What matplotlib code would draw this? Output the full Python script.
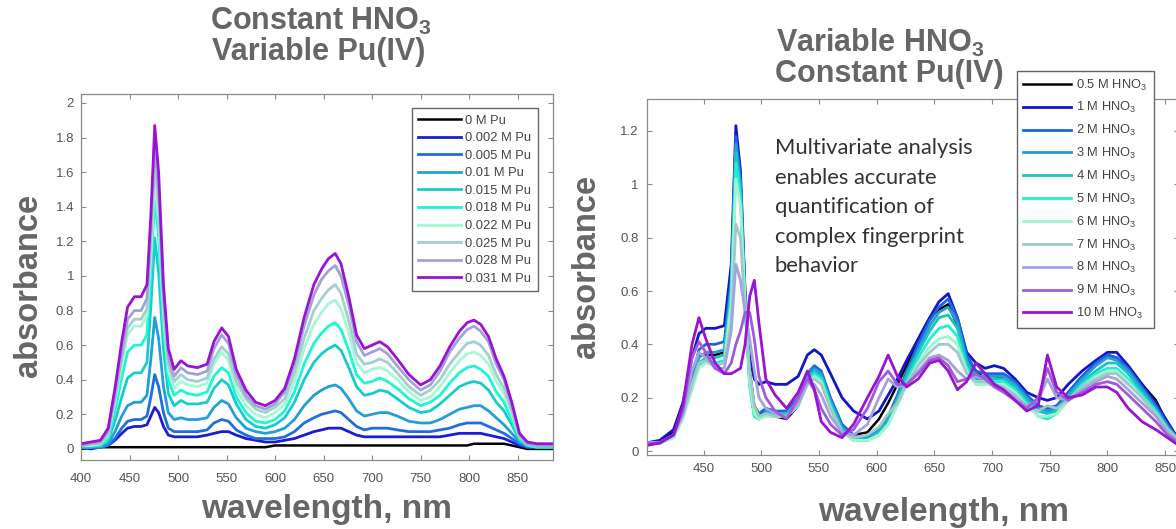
import numpy as np
import matplotlib.pyplot as plt
from matplotlib.ticker import FuncFormatter

plt.rcParams['font.family'] = ['Liberation Sans', 'DejaVu Sans']
plt.rcParams['mathtext.fontset'] = 'custom'
plt.rcParams['mathtext.rm'] = 'Liberation Sans'
plt.rcParams['mathtext.bf'] = 'Liberation Sans:bold'
plt.rcParams['mathtext.default'] = 'regular'

# ---- left panel: constant HNO3, variable Pu(IV) ----
wl_L = [400, 410, 420, 428, 435, 442, 448, 455, 462, 468,
        472, 476, 480, 485, 490, 496, 503, 510, 520, 530,
        537, 545, 552, 560, 570, 580, 590, 600, 610, 620,
        630, 640, 648, 655, 662, 668, 676, 684, 692, 700,
        708, 716, 726, 738, 750, 760, 770, 780, 790, 798,
        805, 812, 820, 828, 836, 844, 852, 860, 870, 886]

pu_0 = [0.00, 0.01, 0.01, 0.01, 0.01, 0.01, 0.01, 0.01, 0.01, 0.01,
        0.01, 0.01, 0.01, 0.01, 0.01, 0.01, 0.01, 0.01, 0.01, 0.01,
        0.01, 0.01, 0.01, 0.01, 0.01, 0.01, 0.01, 0.02, 0.02, 0.02,
        0.02, 0.02, 0.02, 0.02, 0.02, 0.02, 0.02, 0.02, 0.02, 0.02,
        0.02, 0.02, 0.02, 0.02, 0.02, 0.02, 0.02, 0.02, 0.02, 0.02,
        0.03, 0.03, 0.03, 0.03, 0.03, 0.02, 0.01, 0.00, 0.00, 0.00]
pu_002 = [0.01, 0.00, 0.01, 0.02, 0.05, 0.09, 0.12, 0.13, 0.13, 0.14,
          0.19, 0.24, 0.21, 0.13, 0.08, 0.07, 0.07, 0.07, 0.07, 0.08,
          0.09, 0.10, 0.10, 0.08, 0.06, 0.05, 0.04, 0.04, 0.05, 0.06,
          0.08, 0.10, 0.11, 0.12, 0.12, 0.12, 0.10, 0.08, 0.07, 0.07,
          0.07, 0.07, 0.07, 0.07, 0.07, 0.07, 0.07, 0.08, 0.09, 0.09,
          0.09, 0.09, 0.08, 0.07, 0.06, 0.04, 0.02, 0.01, 0.01, 0.01]
pu_005 = [0.01, 0.01, 0.01, 0.02, 0.06, 0.12, 0.16, 0.17, 0.17, 0.19,
          0.30, 0.43, 0.36, 0.21, 0.12, 0.10, 0.10, 0.10, 0.10, 0.11,
          0.15, 0.17, 0.16, 0.11, 0.08, 0.06, 0.06, 0.06, 0.07, 0.10,
          0.15, 0.18, 0.20, 0.21, 0.22, 0.21, 0.17, 0.13, 0.11, 0.12,
          0.12, 0.12, 0.11, 0.10, 0.10, 0.10, 0.11, 0.12, 0.14, 0.15,
          0.15, 0.15, 0.13, 0.11, 0.09, 0.06, 0.03, 0.01, 0.01, 0.01]
pu_01 = [0.01, 0.01, 0.01, 0.03, 0.10, 0.19, 0.25, 0.27, 0.27, 0.31,
         0.52, 0.76, 0.64, 0.36, 0.21, 0.17, 0.18, 0.17, 0.17, 0.18,
         0.24, 0.28, 0.26, 0.18, 0.12, 0.10, 0.09, 0.10, 0.12, 0.17,
         0.25, 0.31, 0.34, 0.36, 0.37, 0.35, 0.29, 0.22, 0.19, 0.20,
         0.21, 0.21, 0.19, 0.16, 0.15, 0.15, 0.17, 0.20, 0.23, 0.24,
         0.25, 0.25, 0.22, 0.18, 0.14, 0.09, 0.04, 0.02, 0.01, 0.01]
pu_015 = [0.01, 0.01, 0.02, 0.05, 0.16, 0.30, 0.41, 0.44, 0.44, 0.50,
          0.82, 1.22, 1.02, 0.58, 0.32, 0.25, 0.28, 0.26, 0.26, 0.27,
          0.35, 0.40, 0.37, 0.26, 0.17, 0.13, 0.12, 0.14, 0.18, 0.27,
          0.40, 0.50, 0.55, 0.58, 0.60, 0.57, 0.47, 0.36, 0.31, 0.32,
          0.34, 0.33, 0.29, 0.24, 0.21, 0.22, 0.26, 0.31, 0.36, 0.38,
          0.39, 0.38, 0.34, 0.27, 0.22, 0.14, 0.05, 0.02, 0.01, 0.01]
pu_018 = [0.02, 0.02, 0.02, 0.06, 0.22, 0.41, 0.56, 0.60, 0.60, 0.66,
          1.02, 1.45, 1.22, 0.70, 0.40, 0.31, 0.34, 0.32, 0.31, 0.33,
          0.42, 0.47, 0.44, 0.30, 0.21, 0.16, 0.15, 0.17, 0.22, 0.33,
          0.49, 0.61, 0.67, 0.71, 0.73, 0.69, 0.57, 0.43, 0.38, 0.39,
          0.41, 0.39, 0.35, 0.29, 0.25, 0.27, 0.31, 0.38, 0.44, 0.47,
          0.48, 0.46, 0.42, 0.33, 0.27, 0.17, 0.06, 0.02, 0.01, 0.01]
pu_022 = [0.02, 0.02, 0.03, 0.08, 0.27, 0.49, 0.66, 0.71, 0.71, 0.77,
          1.12, 1.55, 1.33, 0.78, 0.45, 0.35, 0.39, 0.37, 0.36, 0.38,
          0.49, 0.56, 0.51, 0.35, 0.25, 0.20, 0.18, 0.21, 0.26, 0.39,
          0.58, 0.72, 0.79, 0.84, 0.86, 0.81, 0.67, 0.50, 0.44, 0.46,
          0.47, 0.45, 0.40, 0.33, 0.28, 0.30, 0.36, 0.44, 0.51, 0.55,
          0.56, 0.54, 0.49, 0.39, 0.32, 0.20, 0.07, 0.03, 0.02, 0.02]
pu_025 = [0.02, 0.03, 0.03, 0.09, 0.29, 0.52, 0.70, 0.75, 0.75, 0.81,
          1.19, 1.65, 1.41, 0.83, 0.49, 0.39, 0.43, 0.40, 0.39, 0.41,
          0.52, 0.59, 0.55, 0.39, 0.29, 0.23, 0.21, 0.24, 0.29, 0.44,
          0.64, 0.80, 0.87, 0.92, 0.95, 0.90, 0.74, 0.55, 0.49, 0.50,
          0.52, 0.50, 0.44, 0.36, 0.31, 0.34, 0.40, 0.49, 0.56, 0.61,
          0.62, 0.60, 0.54, 0.43, 0.35, 0.22, 0.07, 0.03, 0.02, 0.02]
pu_028 = [0.02, 0.03, 0.04, 0.10, 0.31, 0.56, 0.75, 0.80, 0.80, 0.87,
          1.27, 1.76, 1.50, 0.88, 0.53, 0.42, 0.47, 0.44, 0.43, 0.45,
          0.58, 0.66, 0.61, 0.43, 0.31, 0.25, 0.23, 0.26, 0.33, 0.49,
          0.71, 0.89, 0.98, 1.03, 1.06, 1.00, 0.83, 0.62, 0.54, 0.56,
          0.58, 0.55, 0.48, 0.40, 0.34, 0.37, 0.45, 0.56, 0.64, 0.69,
          0.71, 0.68, 0.62, 0.49, 0.40, 0.25, 0.08, 0.03, 0.02, 0.02]
pu_031 = [0.03, 0.04, 0.05, 0.12, 0.35, 0.62, 0.82, 0.88, 0.88, 0.95,
          1.35, 1.87, 1.60, 0.95, 0.58, 0.46, 0.51, 0.48, 0.47, 0.49,
          0.62, 0.70, 0.65, 0.46, 0.34, 0.27, 0.25, 0.28, 0.35, 0.52,
          0.76, 0.95, 1.04, 1.10, 1.13, 1.07, 0.88, 0.66, 0.58, 0.60,
          0.62, 0.59, 0.52, 0.43, 0.37, 0.40, 0.48, 0.59, 0.68, 0.73,
          0.745, 0.72, 0.65, 0.52, 0.42, 0.27, 0.09, 0.04, 0.03, 0.03]

labels_L = ['0 M Pu', '0.002 M Pu', '0.005 M Pu', '0.01 M Pu', '0.015 M Pu',
            '0.018 M Pu', '0.022 M Pu', '0.025 M Pu', '0.028 M Pu', '0.031 M Pu']
series_L = [pu_0, pu_002, pu_005, pu_01, pu_015, pu_018, pu_022, pu_025, pu_028, pu_031]
colors_L = ['#000000', '#1c1cd4', '#1f6ee0', '#229fd8', '#16cccc',
            '#1ef5d2', '#a6f7d2', '#a2cfcf', '#a2a2d8', '#9a12d2']

# ---- right panel: variable HNO3, constant Pu(IV) ----
wl_R = [400, 412, 424, 432, 440, 446, 452, 460, 468, 474,
        478, 482, 486, 490, 494, 498, 504, 512, 522, 532,
        540, 546, 552, 560, 570, 580, 592, 602, 610, 618,
        626, 636, 646, 654, 662, 670, 678, 686, 694, 702,
        710, 720, 730, 740, 748, 756, 766, 778, 790, 800,
        808, 818, 830, 842, 852, 862]

hno3_05 = [0.03, 0.03, 0.07, 0.15, 0.28, 0.36, 0.36, 0.36, 0.37, 0.55,
           1.08, 0.95, 0.55, 0.30, 0.17, 0.14, 0.15, 0.13, 0.12, 0.17,
           0.27, 0.31, 0.27, 0.17, 0.08, 0.06, 0.07, 0.12, 0.18, 0.25,
           0.32, 0.42, 0.50, 0.53, 0.55, 0.47, 0.34, 0.30, 0.27, 0.27,
           0.28, 0.25, 0.20, 0.16, 0.15, 0.16, 0.22, 0.28, 0.33, 0.36,
           0.35, 0.31, 0.25, 0.19, 0.10, 0.04]
hno3_1 = [0.03, 0.04, 0.08, 0.18, 0.35, 0.44, 0.46, 0.46, 0.47, 0.70,
          1.22, 1.05, 0.60, 0.35, 0.27, 0.25, 0.26, 0.25, 0.25, 0.28,
          0.36, 0.38, 0.36, 0.29, 0.20, 0.15, 0.12, 0.15, 0.21, 0.27,
          0.34, 0.42, 0.50, 0.56, 0.59, 0.50, 0.37, 0.33, 0.31, 0.32,
          0.31, 0.27, 0.22, 0.20, 0.19, 0.20, 0.25, 0.30, 0.34, 0.37,
          0.37, 0.32, 0.25, 0.18, 0.11, 0.04]
hno3_2 = [0.03, 0.03, 0.06, 0.14, 0.27, 0.38, 0.40, 0.40, 0.41, 0.65,
          1.18, 1.02, 0.58, 0.28, 0.16, 0.14, 0.16, 0.15, 0.15, 0.20,
          0.29, 0.32, 0.30, 0.20, 0.10, 0.06, 0.05, 0.08, 0.13, 0.21,
          0.30, 0.40, 0.49, 0.54, 0.57, 0.50, 0.36, 0.30, 0.29, 0.29,
          0.29, 0.26, 0.21, 0.17, 0.16, 0.17, 0.22, 0.28, 0.33, 0.36,
          0.35, 0.31, 0.24, 0.17, 0.10, 0.04]
hno3_3 = [0.03, 0.03, 0.06, 0.14, 0.26, 0.35, 0.37, 0.37, 0.38, 0.62,
          1.15, 1.00, 0.56, 0.26, 0.14, 0.12, 0.15, 0.14, 0.14, 0.19,
          0.28, 0.31, 0.29, 0.19, 0.09, 0.05, 0.05, 0.08, 0.12, 0.20,
          0.29, 0.38, 0.47, 0.52, 0.54, 0.48, 0.34, 0.28, 0.28, 0.28,
          0.28, 0.25, 0.20, 0.16, 0.15, 0.16, 0.21, 0.27, 0.32, 0.35,
          0.34, 0.30, 0.23, 0.16, 0.09, 0.04]
hno3_4 = [0.03, 0.03, 0.06, 0.13, 0.25, 0.33, 0.35, 0.35, 0.36, 0.60,
          1.12, 0.98, 0.55, 0.25, 0.13, 0.12, 0.14, 0.14, 0.14, 0.18,
          0.27, 0.30, 0.28, 0.18, 0.08, 0.05, 0.04, 0.07, 0.11, 0.19,
          0.28, 0.37, 0.45, 0.50, 0.51, 0.46, 0.33, 0.27, 0.27, 0.27,
          0.27, 0.24, 0.19, 0.15, 0.14, 0.15, 0.20, 0.26, 0.30, 0.33,
          0.33, 0.29, 0.22, 0.15, 0.09, 0.04]
hno3_5 = [0.03, 0.03, 0.05, 0.13, 0.24, 0.32, 0.34, 0.33, 0.34, 0.58,
          1.08, 0.95, 0.54, 0.24, 0.13, 0.12, 0.14, 0.13, 0.13, 0.17,
          0.26, 0.29, 0.27, 0.17, 0.07, 0.04, 0.04, 0.06, 0.10, 0.18,
          0.26, 0.35, 0.42, 0.46, 0.47, 0.43, 0.31, 0.25, 0.25, 0.26,
          0.26, 0.23, 0.18, 0.13, 0.12, 0.14, 0.19, 0.25, 0.29, 0.31,
          0.31, 0.27, 0.21, 0.15, 0.08, 0.04]
hno3_6 = [0.03, 0.03, 0.05, 0.12, 0.23, 0.31, 0.33, 0.32, 0.33, 0.55,
          1.02, 0.92, 0.55, 0.26, 0.14, 0.12, 0.13, 0.13, 0.13, 0.17,
          0.25, 0.28, 0.26, 0.16, 0.07, 0.04, 0.04, 0.06, 0.10, 0.17,
          0.25, 0.33, 0.39, 0.42, 0.43, 0.40, 0.30, 0.25, 0.25, 0.25,
          0.25, 0.22, 0.17, 0.13, 0.13, 0.14, 0.19, 0.24, 0.28, 0.30,
          0.30, 0.26, 0.20, 0.14, 0.08, 0.04]
hno3_7 = [0.03, 0.03, 0.06, 0.13, 0.25, 0.33, 0.34, 0.32, 0.33, 0.48,
          0.85, 0.80, 0.52, 0.30, 0.17, 0.13, 0.14, 0.13, 0.13, 0.17,
          0.25, 0.27, 0.25, 0.16, 0.07, 0.05, 0.06, 0.09, 0.14, 0.18,
          0.25, 0.32, 0.37, 0.40, 0.40, 0.37, 0.29, 0.26, 0.26, 0.25,
          0.24, 0.21, 0.17, 0.15, 0.17, 0.16, 0.19, 0.24, 0.27, 0.29,
          0.29, 0.25, 0.20, 0.14, 0.08, 0.04]
hno3_8 = [0.03, 0.03, 0.06, 0.14, 0.30, 0.37, 0.35, 0.31, 0.31, 0.45,
          0.70, 0.64, 0.52, 0.42, 0.30, 0.20, 0.16, 0.14, 0.13, 0.18,
          0.26, 0.25, 0.21, 0.13, 0.07, 0.06, 0.10, 0.20, 0.27, 0.24,
          0.25, 0.30, 0.35, 0.36, 0.34, 0.30, 0.27, 0.28, 0.27, 0.25,
          0.23, 0.20, 0.17, 0.19, 0.27, 0.20, 0.19, 0.23, 0.26, 0.28,
          0.27, 0.23, 0.18, 0.13, 0.07, 0.03]
hno3_9 = [0.03, 0.03, 0.06, 0.15, 0.35, 0.41, 0.37, 0.31, 0.29, 0.33,
          0.40, 0.45, 0.52, 0.52, 0.42, 0.28, 0.20, 0.15, 0.12, 0.20,
          0.27, 0.23, 0.16, 0.10, 0.06, 0.08, 0.16, 0.26, 0.30, 0.25,
          0.25, 0.29, 0.34, 0.35, 0.32, 0.26, 0.27, 0.29, 0.27, 0.24,
          0.22, 0.19, 0.16, 0.20, 0.31, 0.22, 0.19, 0.22, 0.25, 0.26,
          0.25, 0.21, 0.16, 0.11, 0.06, 0.03]
hno3_10 = [0.02, 0.03, 0.06, 0.17, 0.40, 0.50, 0.42, 0.33, 0.29, 0.29,
           0.30, 0.31, 0.40, 0.58, 0.64, 0.48, 0.27, 0.21, 0.16, 0.22,
           0.30, 0.23, 0.11, 0.07, 0.05, 0.10, 0.20, 0.28, 0.36, 0.28,
           0.24, 0.27, 0.33, 0.34, 0.30, 0.23, 0.26, 0.33, 0.29, 0.25,
           0.23, 0.19, 0.15, 0.17, 0.36, 0.24, 0.20, 0.21, 0.24, 0.24,
           0.22, 0.16, 0.11, 0.08, 0.05, 0.02]

labels_R = ['0.5 M HNO$_3$', '1 M HNO$_3$', '2 M HNO$_3$', '3 M HNO$_3$', '4 M HNO$_3$',
            '5 M HNO$_3$', '6 M HNO$_3$', '7 M HNO$_3$', '8 M HNO$_3$', '9 M HNO$_3$',
            '10 M HNO$_3$']
series_R = [hno3_05, hno3_1, hno3_2, hno3_3, hno3_4, hno3_5,
            hno3_6, hno3_7, hno3_8, hno3_9, hno3_10]
colors_R = ['#000000', '#1414c8', '#1a66dd', '#2a9ad6', '#18c4c4', '#20f0d0',
            '#a0f5d0', '#a0c8c8', '#a4a4dc', '#a05ada', '#9a12d2']

W, H = 1176, 529
fig = plt.figure(figsize=(W / 100, H / 100), dpi=100)


def px_rect(x0, y0, x1, y1):
    return [x0 / W, 1 - y1 / H, (x1 - x0) / W, (y1 - y0) / H]


def matlab_style(ax, pad_x, pad_y):
    for s in ax.spines.values():
        s.set_color('#8a8a8a')
        s.set_linewidth(0.9)
    ax.tick_params(axis='both', direction='in', length=3.5, width=0.8, color='#8a8a8a',
                   labelsize=9.5, labelcolor='#555555', top=True, right=True)
    ax.tick_params(axis='x', pad=pad_x)
    ax.tick_params(axis='y', pad=pad_y)
    ax.yaxis.set_major_formatter(FuncFormatter(lambda v, p: f'{v:g}'))


axL = fig.add_axes(px_rect(81, 94, 553, 460))
for y, c, lab in zip(series_L, colors_L, labels_L):
    axL.plot(wl_L, y, color=c, lw=2.0 if c != '#000000' else 1.8, label=lab)
axL.set_xlim(400, 886.5)
axL.set_ylim(-0.064, 2.052)
axL.set_xticks(range(400, 851, 50))
axL.set_yticks(np.arange(0, 2.01, 0.2))
matlab_style(axL, 9, 5)
axL.legend(loc='upper left', bbox_to_anchor=(412 / W, 1 - 108 / H), bbox_transform=fig.transFigure,
           borderaxespad=0, fontsize=9.3, handlelength=3.3, handletextpad=0.3, labelspacing=0.43,
           borderpad=0.5, fancybox=False, framealpha=1, edgecolor='#666666', labelcolor='#444444')

axR = fig.add_axes(px_rect(647, 99, 1179, 455))
for y, c, lab in zip(series_R, colors_R, labels_R):
    axR.plot(wl_R, y, color=c, lw=2.0 if c != '#000000' else 1.8, label=lab)
axR.set_xlim(401, 862)
axR.set_ylim(-0.015, 1.32)
axR.set_xticks(range(450, 851, 50))
axR.set_yticks(np.arange(0, 1.21, 0.2))
matlab_style(axR, 6, 6)
axR.legend(loc='upper left', bbox_to_anchor=(1017 / W, 1 - 71 / H), bbox_transform=fig.transFigure,
           borderaxespad=0, fontsize=9.3, handlelength=3.7, handletextpad=0.4, labelspacing=0.6,
           borderpad=0.5, fancybox=False, framealpha=1, edgecolor='#666666', labelcolor='#444444')

gray = '#666666'
# titles
fig.text(210 / W, 1 - 30 / H, 'Constant HNO$_3$', fontsize=22, fontweight='bold', color=gray, va='baseline')
fig.text(212 / W, 1 - 60 / H, 'Variable Pu(IV)', fontsize=22, fontweight='bold', color=gray, va='baseline')
fig.text(776 / W, 1 - 52 / H, 'Variable HNO$_3$', fontsize=22, fontweight='bold', color=gray, va='baseline')
fig.text(775 / W, 1 - 82 / H, 'Constant Pu(IV)', fontsize=22, fontweight='bold', color=gray, va='baseline')

# axis labels
fig.text(327 / W, 1 - 518 / H, 'wavelength, nm', fontsize=24, fontweight='bold', color=gray,
         ha='center', va='baseline')
fig.text(944 / W, 1 - 521 / H, 'wavelength, nm', fontsize=24, fontweight='bold', color=gray,
         ha='center', va='baseline')
fig.text(29 / W, 1 - 285 / H, 'absorbance', fontsize=23.5, fontweight='bold', color=gray,
         rotation=90, ha='center', va='center')
fig.text(587 / W, 1 - 266 / H, 'absorbance', fontsize=23.5, fontweight='bold', color=gray,
         rotation=90, ha='center', va='center')

# annotation
fig.text(775 / W, 1 - 138 / H,
         'Multivariate analysis\nenables accurate\nquantification of\ncomplex fingerprint\nbehavior',
         fontsize=15.8, family=['Lato', 'DejaVu Sans'], color='#333333', va='top', ha='left',
         linespacing=1.6)

fig.savefig('out.png', dpi=100)
